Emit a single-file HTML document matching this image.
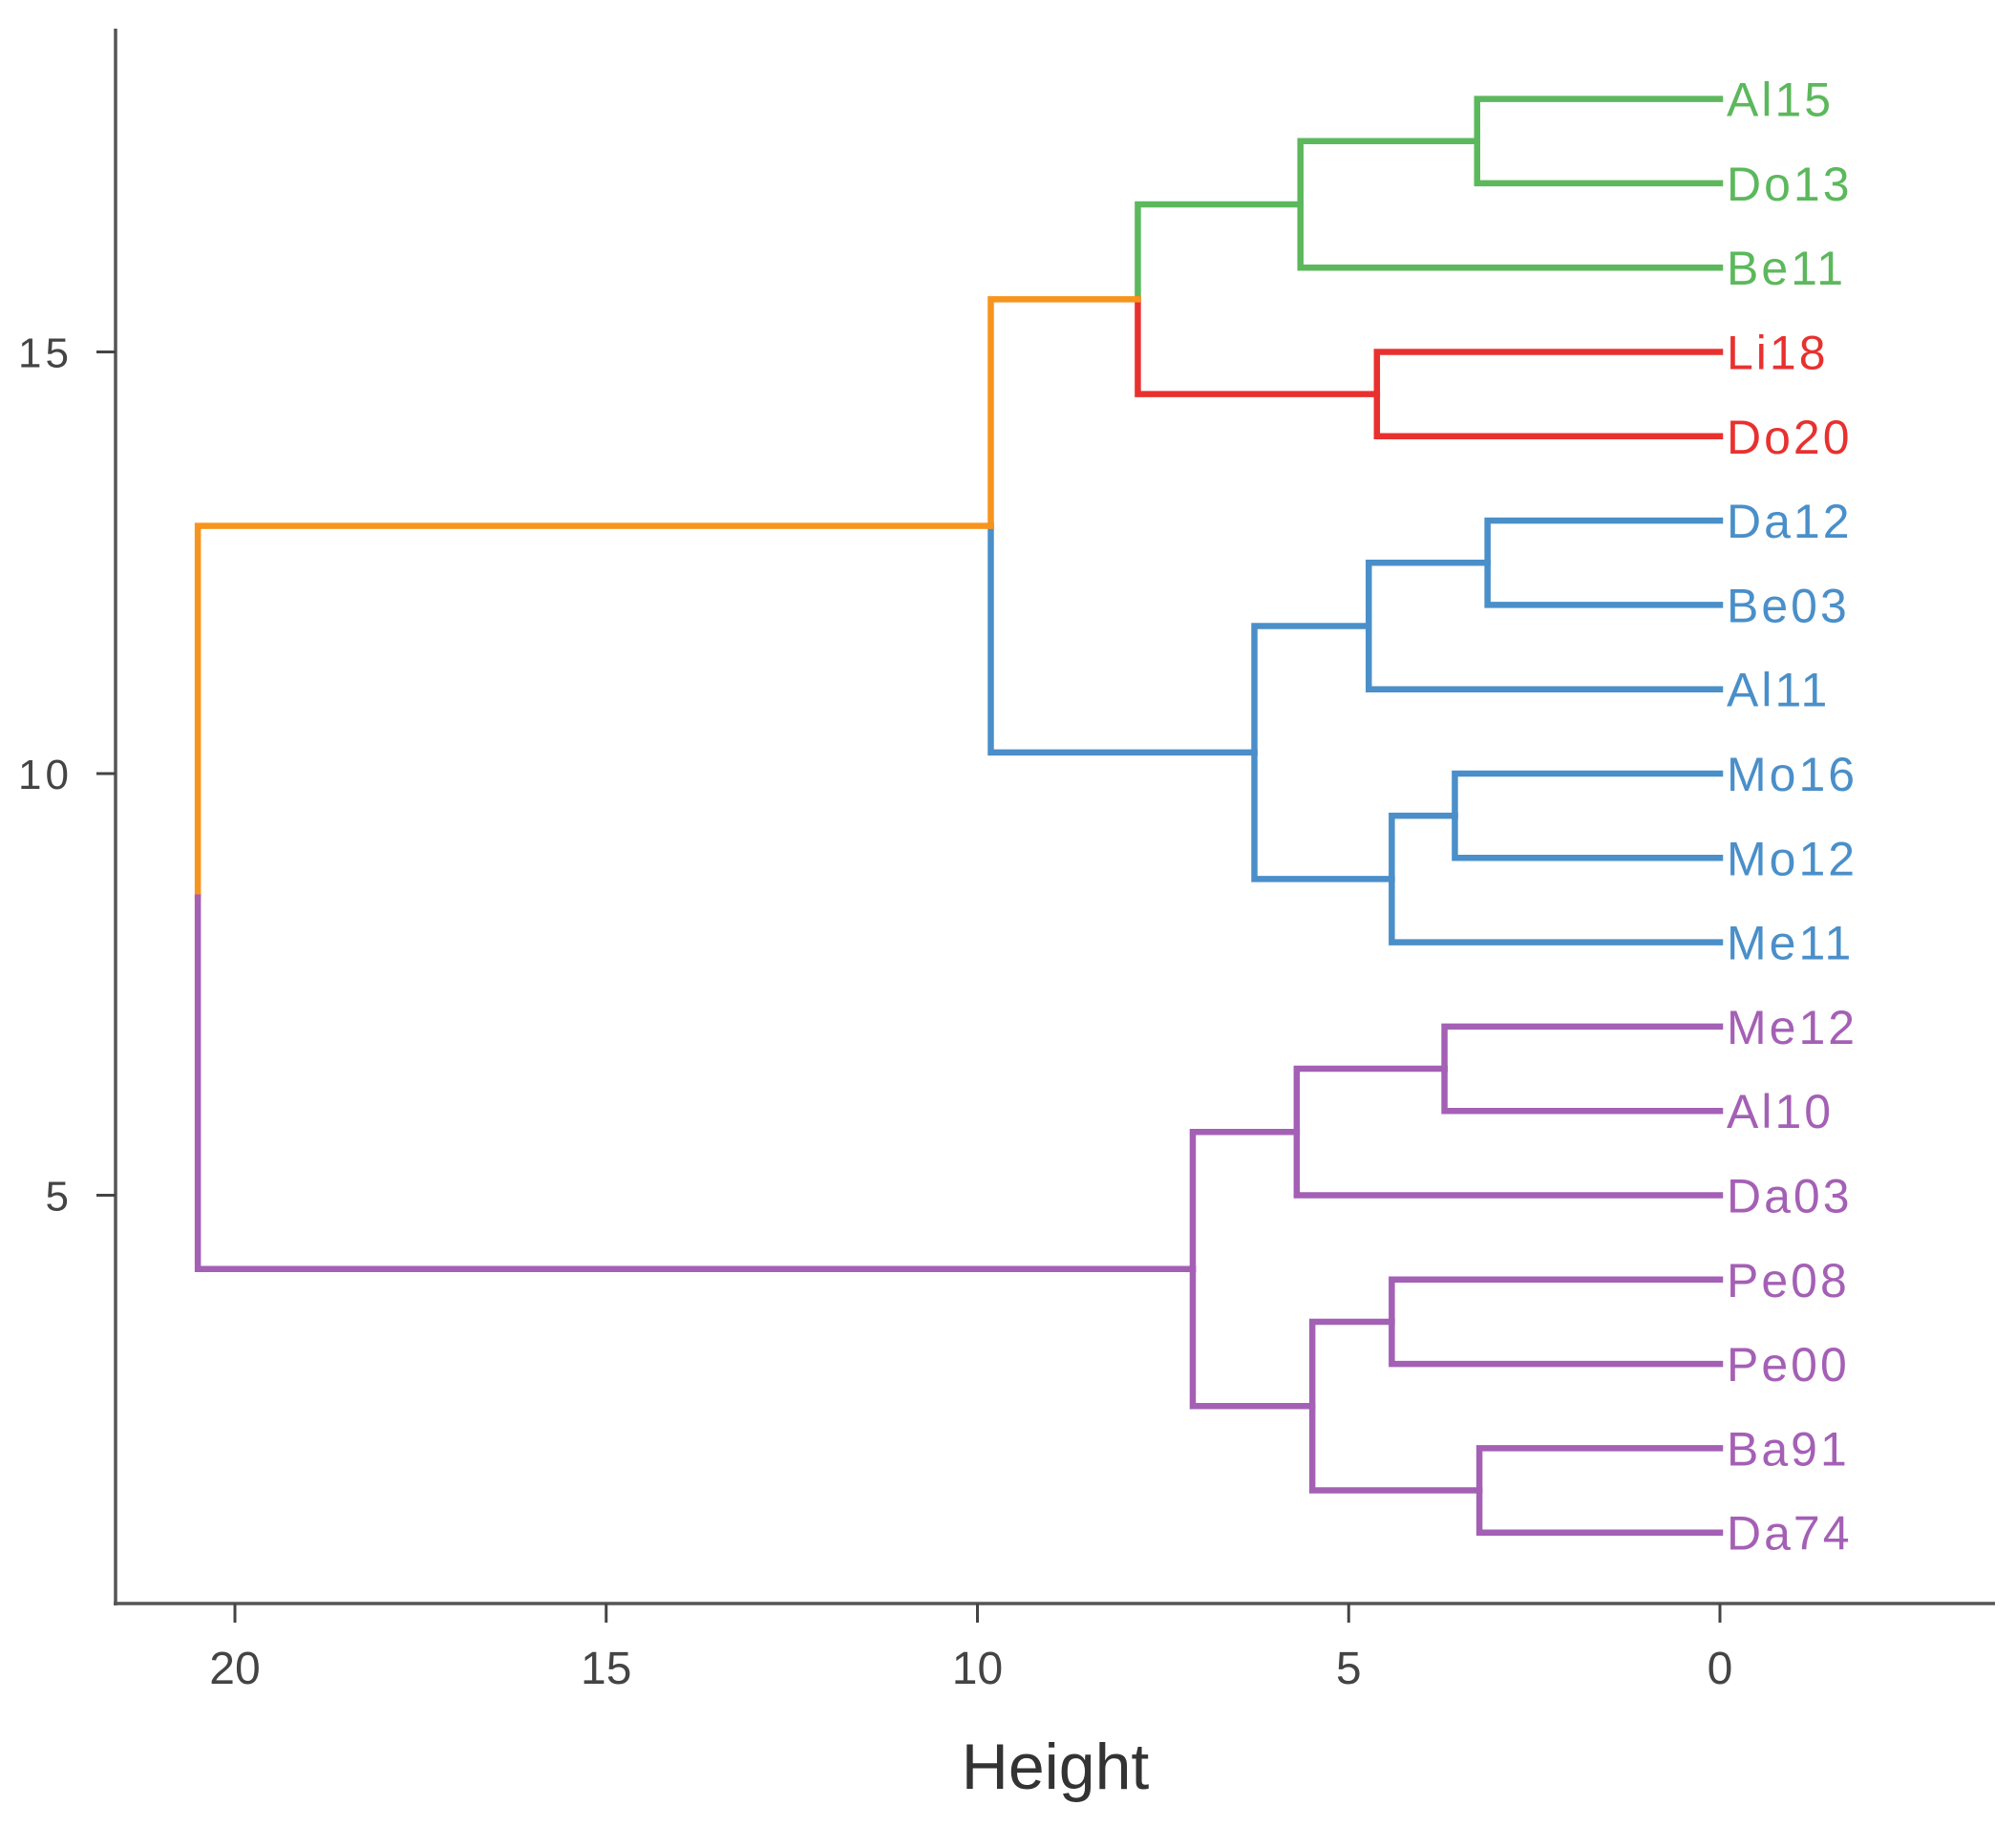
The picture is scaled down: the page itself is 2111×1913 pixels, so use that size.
<!DOCTYPE html>
<html><head><meta charset="utf-8"><style>
html,body{margin:0;padding:0;background:#fff;}
svg{display:block;}
text{font-family:"Liberation Sans",sans-serif;}
</style></head><body>
<svg id="chart" width="2111" height="1913" viewBox="0 0 2111 1913">
<g id="axes"></g>
<g id="links"></g>
<g id="labels"></g>
</svg>
<script>
// leaves top to bottom (y position 18 .. 1)
const leaves = ["Al15","Do13","Be11","Li18","Do20","Da12","Be03","Al11","Mo16","Mo12","Me11","Me12","Al10","Da03","Pe08","Pe00","Ba91","Da74"];
const leafCluster = ["green","green","green","red","red","blue","blue","blue","blue","blue","blue","purple","purple","purple","purple","purple","purple","purple"];
// merges: [childA, childB, height]; negative = leaf index (1-based), positive = merge index (1-based)
const merges = [
  [-1,-2,3.27],
  [1,-3,5.65],
  [-4,-5,4.62],
  [2,3,7.84],
  [-6,-7,3.13],
  [5,-8,4.73],
  [-9,-10,3.57],
  [7,-11,4.42],
  [6,8,6.27],
  [4,9,9.82],
  [-12,-13,3.71],
  [11,-14,5.70],
  [-15,-16,4.42],
  [-17,-18,3.24],
  [13,14,5.49],
  [12,15,7.10],
  [10,16,20.5]
];
const xTicks = [20,15,10,5,0];
const yTicks = [15,10,5];

const colors = {green:"#5cb85c",red:"#e8312f",blue:"#4a8fc9",purple:"#a460b5",mixed:"#f7941d"};
const NS = "http://www.w3.org/2000/svg";
const xS = h => 1801 - h*77.75;
const yS = v => 1693 - v*88.3;

function mk(tag, attrs, parent){const e=document.createElementNS(NS,tag);for(const k in attrs)e.setAttribute(k,attrs[k]);parent.appendChild(e);return e;}
const axes=document.getElementById('axes'), links=document.getElementById('links'), labels=document.getElementById('labels');

let a=mk('line',{x1:121,y1:30,x2:121,y2:1681,stroke:'#555','stroke-width':3.5},axes);


a=mk('line',{x1:119,y1:1679,x2:2089,y2:1679,stroke:'#555','stroke-width':3.5},axes);


xTicks.forEach(t=>{
  const x=xS(t);
  const l=mk('line',{x1:x,y1:1679,x2:x,y2:1699,stroke:'#444','stroke-width':3},axes);
  
  
  const tx=mk('text',{x:x,y:1763,'text-anchor':'middle','font-size':48,fill:'#444'},axes);
  tx.textContent=t;
  
  
});
yTicks.forEach(t=>{
  const y=yS(t);
  const l=mk('line',{x1:101,y1:y,x2:121,y2:y,stroke:'#444','stroke-width':3},axes);
  
  
  const tx=mk('text',{x:76,y:y+16,'text-anchor':'end','font-size':44,fill:'#444','letter-spacing':4},axes);
  tx.textContent=t;
  
  
});
const ttl=mk('text',{x:1105,y:1873,'text-anchor':'middle','font-size':68,fill:'#333'},axes);
ttl.textContent='Height';



const nodes=[];
function info(ref){
  if(ref<0){const i=-ref-1;return {y:leaves.length-i,h:0,c:leafCluster[i]};}
  return nodes[ref-1];
}
merges.forEach(m=>{
  const A=info(m[0]),B=info(m[1]);
  const c = A.c===B.c ? A.c : 'mixed';
  const y=(A.y+B.y)/2;
  [A,B].forEach(ch=>{
    const col=colors[ch.c];
    const p=mk('path',{d:`M${xS(m[2])},${yS(y)} L${xS(m[2])},${yS(ch.y)} L${xS(ch.h)},${yS(ch.y)}`,fill:'none',stroke:col,'stroke-width':6.5,'stroke-linejoin':'miter','stroke-linecap':'square'},links);
    
    
  });
  nodes.push({y:y,h:m[2],c:c});
});

leaves.forEach((n,i)=>{
  const t=mk('text',{x:1808,y:yS(leaves.length-i)+18,'font-size':50,fill:colors[leafCluster[i]],'letter-spacing':3},labels);
  t.textContent=n;
  
  
});
</script>
</body></html>
